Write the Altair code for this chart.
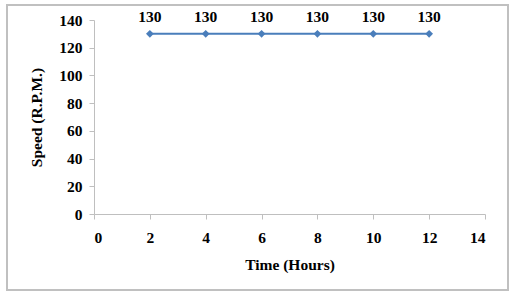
import altair as alt
import pandas as pd

hours = [2, 4, 6, 8, 10, 12]
speed = [130, 130, 130, 130, 130, 130]

df = pd.DataFrame({"hours": hours, "speed": speed})

FONT = "Liberation Serif"
BLUE = "#4a7ebb"
FS = 15.5

x = alt.X("hours:Q", scale=alt.Scale(domain=[0, 14], nice=False),
          axis=alt.Axis(values=list(range(0, 15, 2)), title="Time (Hours)",
                        grid=False, labelPadding=11, titlePadding=12))
y = alt.Y("speed:Q", scale=alt.Scale(domain=[0, 140], nice=False),
          axis=alt.Axis(values=list(range(0, 141, 20)), title="Speed (R.P.M.)",
                        grid=False, labelPadding=7, titlePadding=14))

frame = alt.Chart(df).mark_rect(fill=None, stroke="#c0c0c0", strokeWidth=1.5, clip=False).encode(
    x=alt.value(-87), x2=alt.value(414), y=alt.value(-15), y2=alt.value(270)
)

line = alt.Chart(df).mark_line(color=BLUE, strokeWidth=2).encode(x=x, y=y)
pts = alt.Chart(df).mark_point(shape="diamond", filled=True, color=BLUE, size=60, opacity=1).encode(x=x, y=y)
labels = alt.Chart(df).mark_text(dy=-17, font=FONT, fontWeight="bold", fontSize=FS, color="black").encode(
    x=x, y=y, text="speed:Q")

chart = alt.layer(frame, line, pts, labels).properties(
    width=391, height=194,
    background="white",
    autosize=alt.AutoSizeParams(type="none"),
    padding={"left": 94, "top": 20, "right": 30, "bottom": 86},
).configure_view(stroke=None).configure_axis(
    domainColor="#bfbfbf", tickColor="#bfbfbf", tickSize=5,
    labelFont=FONT, labelFontWeight="bold", labelFontSize=FS, labelColor="black",
    titleFont=FONT, titleFontWeight="bold", titleFontSize=FS, titleColor="black",
)

chart.save("out.html", embed_options={"renderer": "svg", "actions": False})
